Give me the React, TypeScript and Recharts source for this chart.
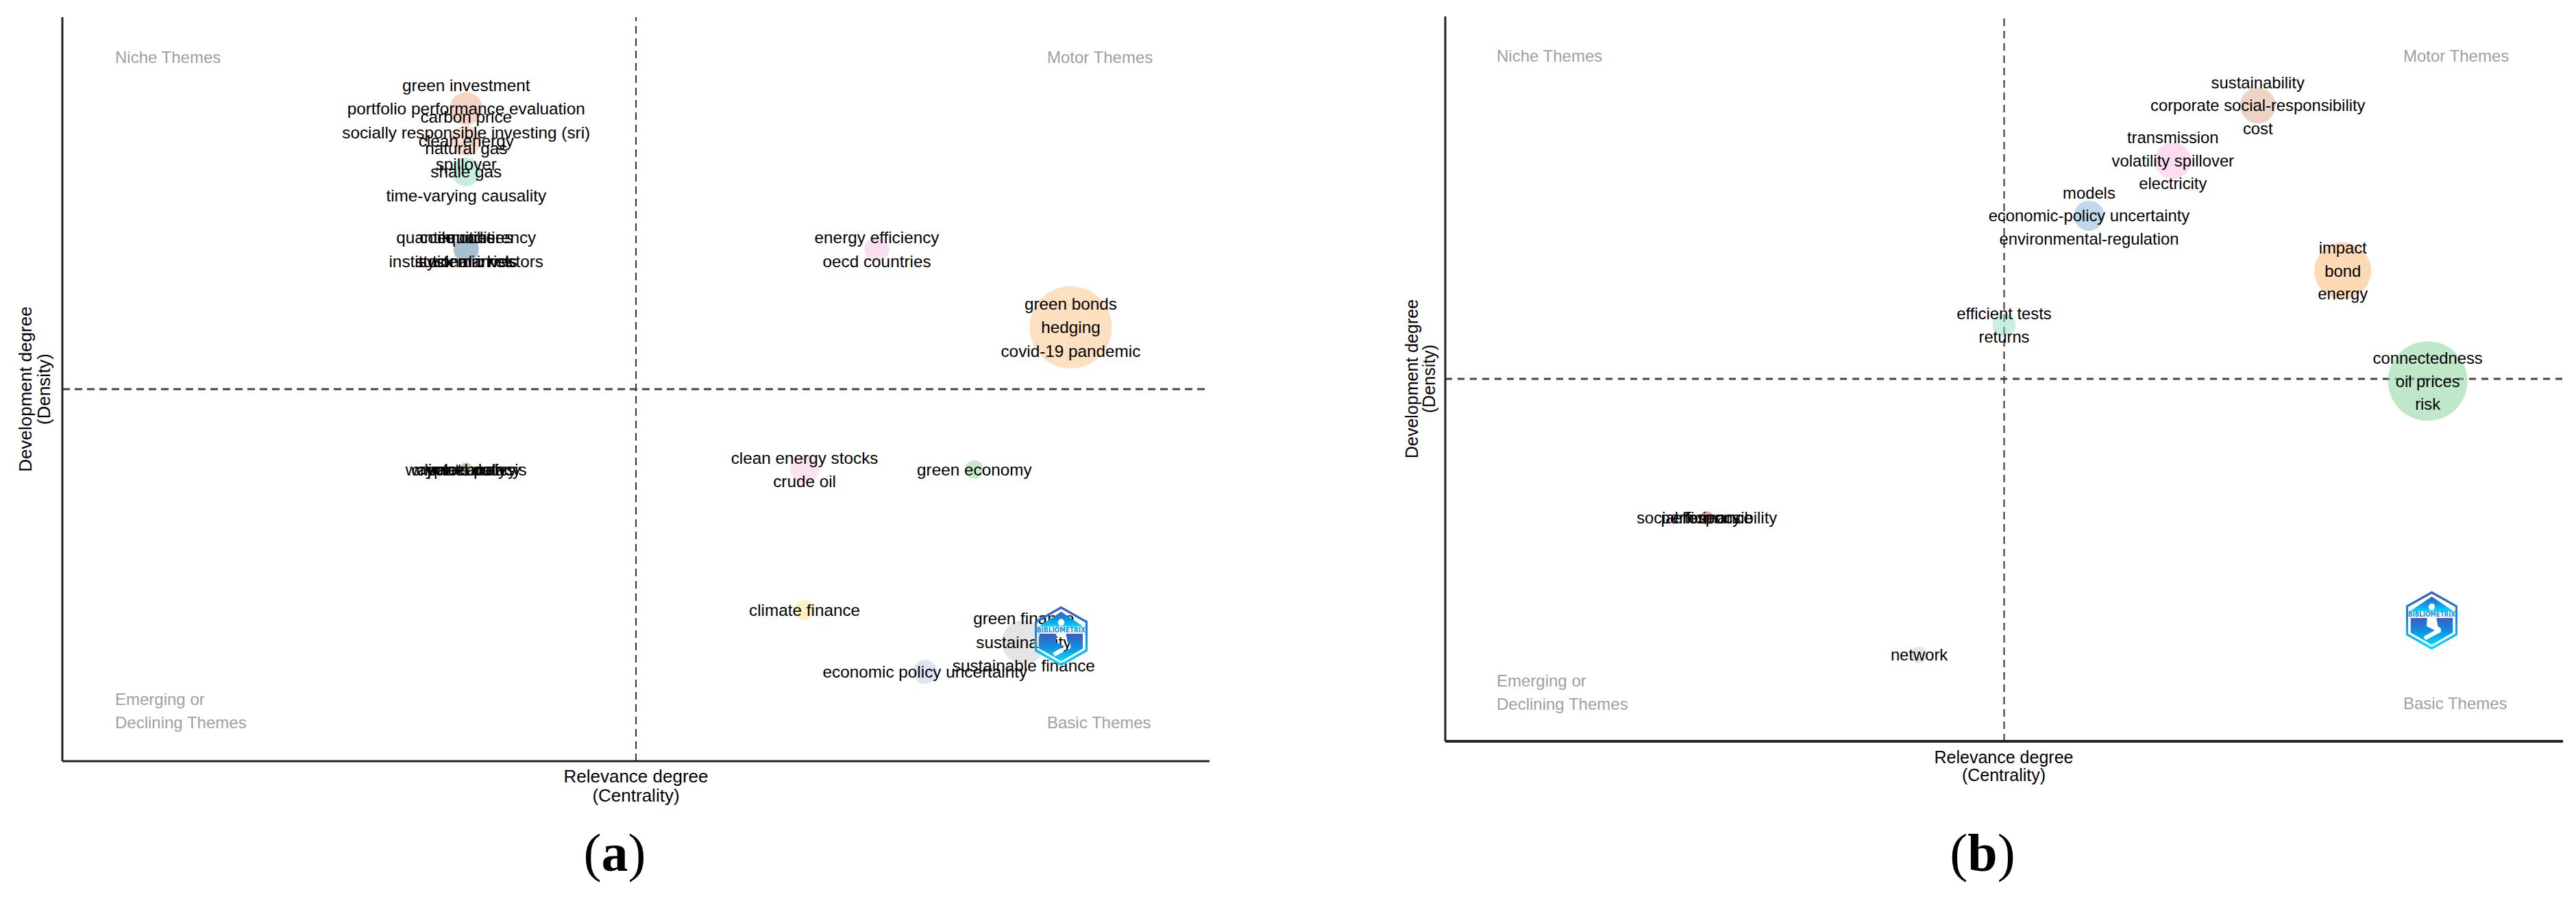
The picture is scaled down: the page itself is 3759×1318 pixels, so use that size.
import { ScatterChart, Scatter, XAxis, YAxis, ZAxis, ReferenceLine } from "recharts";

// panel (a) clusters
const centralityA = [35.2, 35.2, 35.2, 35.2, 35.2, 71.0, 87.9, 64.7, 79.5, 64.7, 75.2, 83.8];
const densityA = [87.7, 83.4, 79.2, 68.8, 39.2, 68.8, 58.3, 39.2, 39.2, 20.3, 12.0, 16.0];
const freqA = [576, 484, 441, 342, 100, 324, 3600, 441, 182, 210, 306, 1024];
const labelsA = [
  ["green investment", "portfolio performance evaluation", "socially responsible investing (sri)"],
  ["carbon price", "clean energy", "spillover"],
  ["natural gas", "shale gas", "time-varying causality"],
  ["quantile coherency", "commodities", "equities", "institutional investors", "stock markets", "systemic risk"],
  ["wavelet analysis", "cryptocurrency", "climate policy", "panel data"],
  ["energy efficiency", "oecd countries"],
  ["green bonds", "hedging", "covid-19 pandemic"],
  ["clean energy stocks", "crude oil"],
  ["green economy"],
  ["climate finance"],
  ["economic policy uncertainty"],
  ["green finance", "sustainability", "sustainable finance"],
];
const coloursA = ["#eba78b", "#f7b9a1", "#91ddc5", "#517f9f", "#899f69", "#f7bfe1", "#fbc181", "#fbc7e1", "#93d397", "#fbe581", "#bbcbe5", "#cbcbcb"];

// panel (b) clusters
const centralityB = [72.7, 65.1, 57.6, 80.3, 50.0, 87.9, 23.4, 42.4];
const densityB = [87.7, 80.1, 72.5, 64.9, 57.4, 49.7, 30.8, 11.9];
const freqB = [676, 702, 484, 1722, 289, 3364, 100, 144];
const labelsB = [
  ["sustainability", "corporate social-responsibility", "cost"],
  ["transmission", "volatility spillover", "electricity"],
  ["models", "economic-policy uncertainty", "environmental-regulation"],
  ["impact", "bond", "energy"],
  ["efficient tests", "returns"],
  ["connectedness", "oil prices", "risk"],
  ["social responsibility", "performance", "efficiency"],
  ["network"],
];
const coloursB = ["#d9a78d", "#fbb9e1", "#81b1d9", "#fbb36b", "#93dfbf", "#7fd191", "#b15131", "#cbcbcb"];

const FONT = "'Liberation Sans', Arial, sans-serif";

function buildRows(xs: number[], ys: number[], zs: number[], labels: string[][]) {
  return xs.map((x, i) => ({ x, y: ys[i], z: zs[i], labels: labels[i] }));
}

// the crowded clusters stack all their words on the bubble centre, or in two rows
function labelOffsets(words: string[], spacing: number) {
  if (words.length === 6) return words.map((_, i) => (i < 3 ? -0.5 : 0.5) * spacing);
  if (words.length === 4) return words.map(() => 0);
  if (words[0] === "social responsibility") return words.map(() => 0);
  return words.map((_, i) => (i - (words.length - 1) / 2) * spacing);
}

function Bubble(props: any) {
  const { cx, cy, width, index, colours } = props;
  return <circle cx={cx} cy={cy} r={width / 2} fill={colours[index]} fillOpacity={0.5} />;
}

function WordStack(props: any) {
  const { cx, cy, payload, spacing, fontSize } = props;
  const offsets = labelOffsets(payload.labels, spacing);
  return (
    <g>
      {payload.labels.map((word: string, i: number) => (
        <text key={word} x={cx} y={cy + offsets[i]} dy="0.35em" textAnchor="middle" fontSize={fontSize} fontFamily={FONT} fill="#000">
          {word}
        </text>
      ))}
    </g>
  );
}

// sits above the charts, the figure in the middle is a hole so words show through
function Logo({ id, x, y, w, h }: { id: string; x: number; y: number; w: number; h: number }) {
  return (
    <svg style={{ position: "absolute", left: x, top: y }} width={w} height={h} viewBox="0 0 100 100" preserveAspectRatio="none">
      <defs>
        <linearGradient id={id} x1="0" y1="0" x2="0" y2="1">
          <stop offset="0%" stopColor="#3f5cc0" />
          <stop offset="45%" stopColor="#0f8be0" />
          <stop offset="100%" stopColor="#00d8ff" />
        </linearGradient>
      </defs>
      <polygon points="50,2 98,26 98,74 50,98 2,74 2,26" fill="none" stroke={`url(#${id})`} strokeWidth={4} />
      <polygon points="50,9 92,34 8,34" fill={`url(#${id})`} />
      <path
        d="M9,46 L91,46 L91,71 L50,92 L9,71 Z M41,46 L59,46 L62,60 L68,64 L68,70 L38,84 L34,78 L56,67 L40,60 Z"
        fill={`url(#${id})`}
        fillRule="evenodd"
      />
      <circle cx={50} cy={27} r={6} fill="#fff" />
      <text x={50} y={44} textAnchor="middle" fontSize={13} fontWeight={700} fontFamily="'DejaVu Sans', sans-serif" textLength={92} lengthAdjust="spacingAndGlyphs" fill="#1290e6">
        BIBLIOMETRIX
      </text>
    </svg>
  );
}

function QuadrantText({ x, y, lines }: { x: number; y: number; lines: string[] }) {
  return (
    <g>
      {lines.map((line, i) => (
        <text key={line} x={x} y={y + i * 34} dy="0.35em" fontSize={24} fontFamily={FONT} fill="#a0a0a0">
          {line}
        </text>
      ))}
    </g>
  );
}

function ThemeMap(props: any) {
  const { rows, colours, spacing, fontSize, margin, hDash, vDash, axisWidth, children } = props;
  return (
    <div style={{ position: "absolute", left: 0, top: 0 }}>
      <ScatterChart width={3759} height={1318} margin={margin}>
        <XAxis type="number" dataKey="x" domain={[0, 100]} height={1} tick={false} tickLine={false} axisLine={{ stroke: "#222", strokeWidth: axisWidth }} />
        <YAxis type="number" dataKey="y" domain={[0, 100]} width={1} tick={false} tickLine={false} axisLine={{ stroke: "#222", strokeWidth: 3 }} />
        <ZAxis type="number" dataKey="z" domain={[0, 3600]} range={[0, 3600 * Math.PI]} />
        <Scatter data={rows} isAnimationActive={false} shape={(p: any) => <Bubble {...p} colours={colours} />} />
        <ReferenceLine x={50} stroke="#333" strokeWidth={2} strokeDasharray={vDash} />
        <ReferenceLine y={50} stroke="#444" strokeWidth={3} strokeDasharray={hDash} />
        <Scatter data={rows} isAnimationActive={false} shape={(p: any) => <WordStack {...p} spacing={spacing} fontSize={fontSize} />} />
        {children}
      </ScatterChart>
    </div>
  );
}

export default function App() {
  const rowsA = buildRows(centralityA, densityA, freqA, labelsA);
  const rowsB = buildRows(centralityB, densityB, freqB, labelsB);
  return (
    <div style={{ position: "absolute", left: 0, top: 0, width: 3759, height: 1318, background: "#fff" }}>
      <ThemeMap rows={rowsA} colours={coloursA} spacing={34.5} fontSize={24.3} margin={{ top: 25, right: 1994, bottom: 206, left: 90 }} hDash="11 7" vDash="11 7" axisWidth={3}>
        <QuadrantText x={168} y={84} lines={["Niche Themes"]} />
        <QuadrantText x={1528} y={84} lines={["Motor Themes"]} />
        <QuadrantText x={168} y={1021} lines={["Emerging or", "Declining Themes"]} />
        <QuadrantText x={1528} y={1055} lines={["Basic Themes"]} />
        <text x={928} y={1133} dy="0.35em" textAnchor="middle" fontSize={26} fontFamily={FONT}>Relevance degree</text>
        <text x={928} y={1161} dy="0.35em" textAnchor="middle" fontSize={26} fontFamily={FONT}>(Centrality)</text>
        <text transform="translate(46,568) rotate(-90)" textAnchor="middle" fontSize={26} fontFamily={FONT}>Development degree</text>
        <text transform="translate(73,568) rotate(-90)" textAnchor="middle" fontSize={26} fontFamily={FONT}>(Density)</text>
        <text x={897} y={1271} textAnchor="middle" fontSize={78} fontFamily="'Liberation Serif', serif">
          (<tspan fontWeight={700}>a</tspan>)
        </text>
      </ThemeMap>
      <ThemeMap rows={rowsB} colours={coloursB} spacing={33.5} fontSize={23.8} margin={{ top: 24, right: 19, bottom: 235, left: 2108 }} hDash="10 8" vDash="11 7" axisWidth={4}>
        <QuadrantText x={2184} y={82} lines={["Niche Themes"]} />
        <QuadrantText x={3507} y={82} lines={["Motor Themes"]} />
        <QuadrantText x={2184} y={994} lines={["Emerging or", "Declining Themes"]} />
        <QuadrantText x={3507} y={1027} lines={["Basic Themes"]} />
        <text x={2924} y={1105} dy="0.35em" textAnchor="middle" fontSize={25} fontFamily={FONT}>Relevance degree</text>
        <text x={2924} y={1131} dy="0.35em" textAnchor="middle" fontSize={25} fontFamily={FONT}>(Centrality)</text>
        <text transform="translate(2069,553) rotate(-90)" textAnchor="middle" fontSize={25} fontFamily={FONT}>Development degree</text>
        <text transform="translate(2094,553) rotate(-90)" textAnchor="middle" fontSize={25} fontFamily={FONT}>(Density)</text>
        <text x={2893} y={1271} textAnchor="middle" fontSize={78} fontFamily="'Liberation Serif', serif">
          (<tspan fontWeight={700}>b</tspan>)
        </text>
      </ThemeMap>
      <Logo id="logoA" x={1510} y={885} w={77} h={87} />
      <Logo id="logoB" x={3511} y={863} w={75} h={85} />
    </div>
  );
}
